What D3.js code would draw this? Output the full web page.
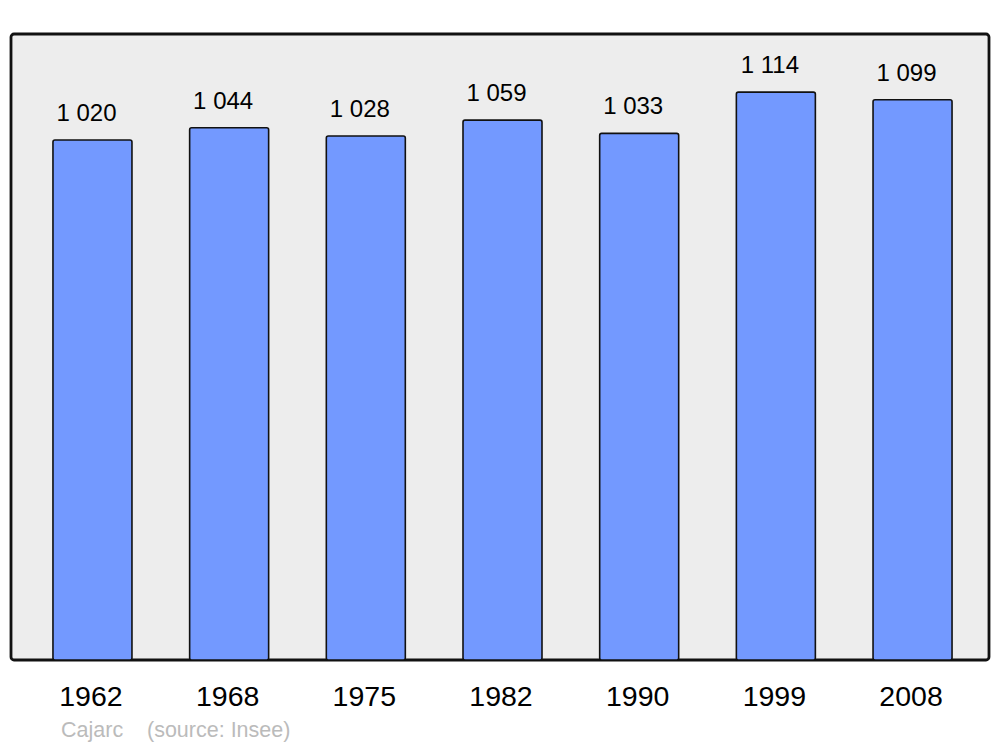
<!DOCTYPE html>
<html>
<head>
<meta charset="utf-8">
<script src="https://cdn.jsdelivr.net/npm/d3@7"></script>
<style>
html,body{margin:0;padding:0;background:#fff;}
svg{display:block;font-family:"Liberation Sans",Arial,sans-serif;}
</style>
</head>
<body>
<svg id="chart" width="1000" height="747"></svg>
<script>
const years = ["1962","1968","1975","1982","1990","1999","2008"];
const population = [1020,1044,1028,1059,1033,1114,1099];
const valueLabels = ["1 020","1 044","1 028","1 059","1 033","1 114","1 099"];
const sourceText = ["Cajarc", "(source: Insee)"];

const svg = d3.select("#chart");
const frame = {x0: 11, y0: 34, x1: 989, y1: 660};

const x = d3.scaleBand().domain(years).range([11, 994]).paddingInner(0.422).paddingOuter(0.307).align(0.5);
const y = d3.scaleLinear().domain([0, 1228]).range([frame.y1, frame.y0]);

svg.append("rect")
  .attr("x", frame.x0).attr("y", frame.y0)
  .attr("width", frame.x1 - frame.x0).attr("height", frame.y1 - frame.y0)
  .attr("rx", 3).attr("ry", 3)
  .attr("fill", "#ededed").attr("stroke", "#111").attr("stroke-width", 2.8);

const data = years.map((yr, i) => ({yr, v: population[i], lab: valueLabels[i]}));

svg.selectAll("rect.bar").data(data).join("rect")
  .attr("class", "bar")
  .attr("x", d => x(d.yr)).attr("y", d => y(d.v))
  .attr("width", x.bandwidth()).attr("height", d => y(0) - y(d.v))
  .attr("rx", 2).attr("ry", 2)
  .attr("fill", "#7399ff").attr("stroke", "#111").attr("stroke-width", 1.6);

svg.selectAll("text.val").data(data).join("text")
  .attr("class", "val")
  .attr("x", d => x(d.yr) + x.bandwidth() / 2 - 6)
  .attr("y", d => y(d.v) - 19)
  .attr("text-anchor", "middle")
  .attr("font-size", 24).attr("fill", "#000")
  .text(d => d.lab);

const xAxis = d3.axisBottom(x).tickSize(0).tickPadding(0);
const gx = svg.append("g").attr("transform", `translate(-1.5,${frame.y1})`).call(xAxis);
gx.select(".domain").remove();
gx.selectAll("text")
  .attr("font-size", 28.5).attr("fill", "#000")
  .attr("font-family", "Liberation Sans, Arial, sans-serif")
  .attr("dy", 0).attr("y", 46);

svg.append("text").attr("x", 61).attr("y", 737)
  .attr("font-size", 21.5).attr("fill", "#bbbbbb")
  .text(sourceText[0]);
svg.append("text").attr("x", 147).attr("y", 737)
  .attr("font-size", 21.5).attr("fill", "#bbbbbb")
  .text(sourceText[1]);
</script>
</body>
</html>
